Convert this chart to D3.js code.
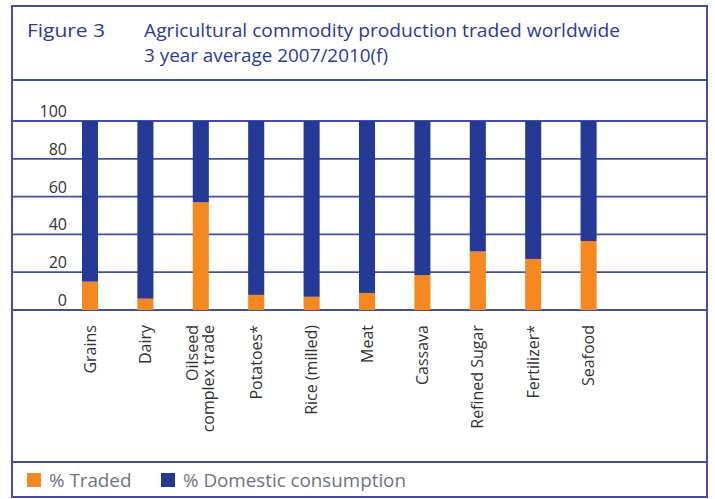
<!DOCTYPE html>
<html><head><meta charset="utf-8">
<script src="https://cdn.jsdelivr.net/npm/d3@7"></script>
<style>body{margin:0;background:#fff}svg{display:block}</style>
</head><body><svg id="c" width="715" height="499"></svg>
<script>
const categories = [["Grains"],["Dairy"],["Oilseed","complex trade"],["Potatoes*"],["Rice (milled)"],["Meat"],["Cassava"],["Refined Sugar"],["Fertilizer*"],["Seafood"]];
const traded = [15, 6, 57, 8, 7, 9, 18.5, 31, 27, 36.5];
const domestic = traded.map(v => 100 - v);
const yTicks = [0, 20, 40, 60, 80, 100];
const seriesNames = ["% Traded", "% Domestic consumption"];
const colors = ["#f58820", "#253a96"];

const svg = d3.select("#c");
const font = "'Open Sans', sans-serif";
const lineCol = "#3f50a8";

// frame
svg.append("rect").attr("x", 12).attr("y", 6).attr("width", 695).attr("height", 491)
  .attr("fill", "none").attr("stroke", lineCol).attr("stroke-width", 2);
svg.append("line").attr("x1", 12).attr("x2", 707).attr("y1", 80).attr("y2", 80).attr("stroke", lineCol).attr("stroke-width", 2);
svg.append("line").attr("x1", 12).attr("x2", 707).attr("y1", 462).attr("y2", 462).attr("stroke", lineCol).attr("stroke-width", 2);

// title
const tcol = "#2b3b9c";
const tsize = 18;
svg.append("text").attr("x", 27).attr("y", 37).text("Figure 3").attr("font-family", font).attr("font-size", tsize).attr("fill", tcol)
  .attr("textLength", 78).attr("lengthAdjust", "spacingAndGlyphs");
svg.append("text").attr("x", 144).attr("y", 37).text("Agricultural commodity production traded worldwide").attr("font-family", font).attr("font-size", tsize).attr("fill", tcol)
  .attr("textLength", 476).attr("lengthAdjust", "spacingAndGlyphs");
svg.append("text").attr("x", 144).attr("y", 62).text("3 year average 2007/2010(f)").attr("font-family", font).attr("font-size", tsize).attr("fill", tcol)
  .attr("textLength", 244).attr("lengthAdjust", "spacingAndGlyphs");

const keys = categories.map(c => c.join(" "));
const x = d3.scaleBand().domain(keys).range([62.3, 616.3]).paddingInner(0.71).paddingOuter(0.355);
const y = d3.scaleLinear().domain([0, 100]).range([310, 121]);

// gridlines
svg.append("g").selectAll("line").data(yTicks).join("line")
  .attr("x1", 12).attr("x2", 707).attr("y1", d => y(d)).attr("y2", d => y(d))
  .attr("stroke", lineCol).attr("stroke-width", 1.8);

// y labels
svg.append("g").selectAll("text").data(yTicks).join("text")
  .attr("x", 67).attr("y", d => y(d) - 4).attr("text-anchor", "end")
  .attr("font-family", font).attr("font-size", 16).attr("fill", "#333").text(d => d);

// bars
const stacked = d3.stack().keys(["t", "d"])(keys.map((k, i) => ({k, t: traded[i], d: domestic[i]})));
svg.append("g").selectAll("g").data(stacked).join("g").attr("fill", (d, i) => colors[i])
  .selectAll("rect").data(d => d).join("rect")
  .attr("x", d => x(d.data.k)).attr("width", x.bandwidth())
  .attr("y", d => y(d[1])).attr("height", d => y(d[0]) - y(d[1]));

// x labels
const xl = svg.append("g").selectAll("text").data(categories).join("text")
  .attr("transform", (d, i) => `translate(${x(keys[i]) + x.bandwidth() / 2},325) rotate(-90)`)
  .attr("text-anchor", "end").attr("font-family", font).attr("font-size", 16).attr("fill", "#333");
xl.each(function(d) {
  const n = d.length;
  d.forEach((line, j) => {
    d3.select(this).append("tspan").attr("x", 0)
      .attr("y", (j - (n - 1) / 2) * 16 + 5.5).text(line);
  });
});

// legend
const lg = svg.append("g");
const lx = [27, 161];
seriesNames.forEach((s, i) => {
  lg.append("rect").attr("x", lx[i]).attr("y", 473).attr("width", 14).attr("height", 14).attr("fill", colors[i]);
  lg.append("text").attr("x", lx[i] + 22).attr("y", 487).text(s).attr("font-family", font).attr("font-size", 18.8).attr("fill", "#6b7480");
});
</script></body></html>
